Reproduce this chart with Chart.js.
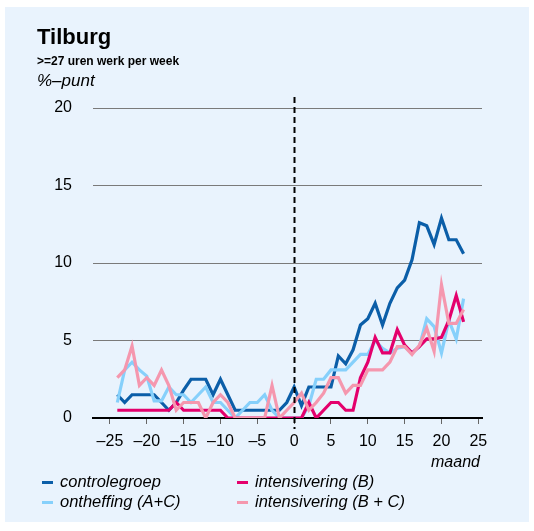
<!DOCTYPE html>
<html>
<head>
<meta charset="utf-8">
<script src="https://cdn.jsdelivr.net/npm/chart.js@4.4.1/dist/chart.umd.min.js"></script>
<style>
  body { margin: 0; background: #fff; font-family: "Liberation Sans", Arial, sans-serif; }
  #panel { position: absolute; left: 5px; top: 7px; width: 524px; height: 515px; background: #e9f3fd; }
  #chart1 { position: absolute; left: 0; top: 0; }
  .txt { position: absolute; color: #000; white-space: nowrap; }
  .title { left: 37px; top: 24px; font-size: 22px; font-weight: bold; }
  .sub { left: 37px; top: 54px; font-size: 12px; font-weight: bold; }
  .unit { left: 37px; top: 71px; font-size: 17px; font-style: italic; }
  .maand { left: 431px; top: 453px; font-size: 16px; font-style: italic; }
  .leg { font-size: 16.5px; font-style: italic; }
  .mark { position: absolute; width: 11px; height: 3px; }
</style>
</head>
<body>
<div id="panel"></div>
<canvas id="chart1" width="534" height="531"></canvas>
<div class="txt title">Tilburg</div>
<div class="txt sub">&gt;=27 uren werk per week</div>
<div class="txt unit">%–punt</div>
<div class="txt maand">maand</div>
<div id="legend"></div>
<script>
const months = [-24, -23, -22, -21, -20, -19, -18, -17, -16, -15, -14, -13, -12, -11, -10, -9,
  -8, -7, -6, -5, -4, -3, -2, -1, 0, 1, 2, 3, 4, 5, 6, 7,
  8, 9, 10, 11, 12, 13, 14, 15, 16, 17, 18, 19, 20, 21, 22, 23];

const controlegroep = [1.5, 1.0, 1.5, 1.5, 1.5, 1.5, 1.0, 0.5, 1.0, 1.8, 2.5, 2.5, 2.5, 1.5, 2.5, 1.5,
  0.5, 0.5, 0.5, 0.5, 0.5, 0.5, 0.5, 1.0, 2.0, 0.8, 2.0, 2.0, 2.0, 2.0, 4.0, 3.5,
  4.4, 6.0, 6.4, 7.4, 6.0, 7.4, 8.4, 8.9, 10.2, 12.6, 12.4, 11.2, 12.9, 11.5, 11.5, 10.6];

const ontheffing = [1.0, 3.1, 3.6, 3.1, 2.7, 1.1, 1.1, 2.0, 1.5, 1.5, 1.0, 1.5, 2.0, 1.0, 1.0, 0.5,
  0.0, 0.5, 1.0, 1.0, 1.5, 0.5, 0.0, 0.0, 0.0, 0.0, 0.8, 2.5, 2.5, 3.1, 3.1, 3.1,
  3.6, 4.1, 4.1, 5.0, 4.5, 4.2, 4.5, 4.6, 4.2, 4.6, 6.4, 5.9, 4.2, 6.3, 5.1, 7.7];

const intensiveringB = [0.5, 0.5, 0.5, 0.5, 0.5, 0.5, 0.5, 0.5, 1.0, 0.5, 0.5, 0.5, 0.5, 0.5, 0.5, 0.0,
  0.0, 0.0, 0.0, 0.0, 0.0, 0.0, 0.0, 0.0, 0.0, 0.0, 1.0, 0.0, 0.5, 1.0, 1.0, 0.5,
  0.5, 2.6, 3.6, 5.2, 4.2, 4.2, 5.7, 4.7, 4.2, 4.6, 5.1, 5.1, 5.2, 6.3, 7.9, 6.2];

const intensiveringBC = [2.6, 3.1, 4.65, 2.1, 2.6, 2.1, 3.1, 2.1, 0.5, 1.0, 1.0, 1.0, 0.0, 1.0, 1.5, 1.0,
  0.0, 0.0, 0.0, 0.0, 0.0, 2.1, 0.0, 0.5, 1.0, 1.6, 0.5, 1.0, 1.6, 2.6, 2.6, 1.6,
  2.1, 2.1, 3.1, 3.1, 3.1, 3.6, 4.6, 4.6, 4.1, 4.7, 5.8, 4.3, 8.6, 6.1, 6.1, 7.0];

const seriesLabels = ['controlegroep', 'intensivering (B)', 'ontheffing (A+C)', 'intensivering (B + C)'];
const xTickValues = [-25, -20, -15, -10, -5, 0, 5, 10, 15, 20, 25];
const yTickValues = [0, 5, 10, 15, 20];

const colors = {
  'control': '#0b5ea8',
  'onth': '#86d0fb',
  'intB': '#e4006c',
  'intBC': '#f597ae'
};

const ctx = document.getElementById('chart1');

const toPoints = (vals) => months.map((m, i) => ({ x: m, y: vals[i] }));

const createDataset = (label, data, color, order) => ({
  label: label,
  data: toPoints(data),
  borderColor: colors[color],
  backgroundColor: colors[color],
  borderWidth: 3.2,
  pointRadius: 0,
  tension: 0,
  fill: false,
  order: order
});

// dashed vertical line at month 0
const zeroLine = {
  id: 'zeroLine',
  afterDatasetsDraw(chart) {
    const c = chart.ctx;
    const xs = chart.scales.x;
    const area = chart.chartArea;
    const px = Math.round(xs.getPixelForValue(0)) + 0.5;
    c.save();
    c.strokeStyle = '#000';
    c.lineWidth = 2;
    c.setLineDash([6, 4]);
    c.beginPath();
    c.moveTo(px, area.top - 11);
    c.lineTo(px, area.bottom + 11);
    c.stroke();
    c.restore();
  }
};

Chart.defaults.font.family = '"Liberation Sans", Arial, sans-serif';
Chart.defaults.color = '#000';

new Chart(ctx, {
  type: 'line',
  data: {
    datasets: [
      createDataset(seriesLabels[0], controlegroep, 'control', 4),
      createDataset(seriesLabels[2], ontheffing, 'onth', 3),
      createDataset(seriesLabels[1], intensiveringB, 'intB', 2),
      createDataset(seriesLabels[3], intensiveringBC, 'intBC', 1)
    ]
  },
  options: {
    responsive: false,
    animation: false,
    layout: { autoPadding: false, padding: { left: 0, top: 108, right: 52, bottom: 63 } },
    plugins: { legend: { display: false }, tooltip: { enabled: false } },
    scales: {
      x: {
        type: 'linear',
        min: -27.3,
        max: 25.5,
        afterBuildTicks: (s) => { s.ticks = xTickValues.map(v => ({ value: v })); },
        afterFit: (s) => { s.height = 50; },
        ticks: {
          font: { size: 16 },
          padding: 8,
          maxRotation: 0,
          callback: (v) => (v < 0 ? '\u2013' + Math.abs(v) : '' + v)
        },
        grid: { drawOnChartArea: false, drawTicks: true, tickLength: 6, color: '#666', lineWidth: 1 },
        border: { display: true, color: '#000', width: 2 }
      },
      y: {
        min: 0,
        max: 20,
        afterBuildTicks: (s) => { s.ticks = yTickValues.map(v => ({ value: v })); },
        afterFit: (s) => { s.width = 93; },
        ticks: { font: { size: 16 }, padding: 21 },
        grid: {
          drawTicks: false,
          color: (c) => (c.tick && c.tick.value === 0 ? '#000' : '#7a7a7a'),
          lineWidth: (c) => (c.tick && c.tick.value === 0 ? 2 : 1)
        },
        border: { display: false }
      }
    }
  },
  plugins: [zeroLine]
});

// legend in two columns
const legendPos = [
  { label: seriesLabels[0], color: 'control', x: 42, y: 472 },
  { label: seriesLabels[1], color: 'intB', x: 237, y: 472 },
  { label: seriesLabels[2], color: 'onth', x: 42, y: 492 },
  { label: seriesLabels[3], color: 'intBC', x: 237, y: 492 }
];
const legend = document.getElementById('legend');
legendPos.forEach(item => {
  const m = document.createElement('div');
  m.className = 'mark';
  m.style.left = item.x + 'px';
  m.style.top = (item.y + 9) + 'px';
  m.style.background = colors[item.color];
  legend.appendChild(m);
  const t = document.createElement('div');
  t.className = 'txt leg';
  t.style.left = (item.x + 18) + 'px';
  t.style.top = item.y + 'px';
  t.textContent = item.label;
  legend.appendChild(t);
});
</script>
</body>
</html>
